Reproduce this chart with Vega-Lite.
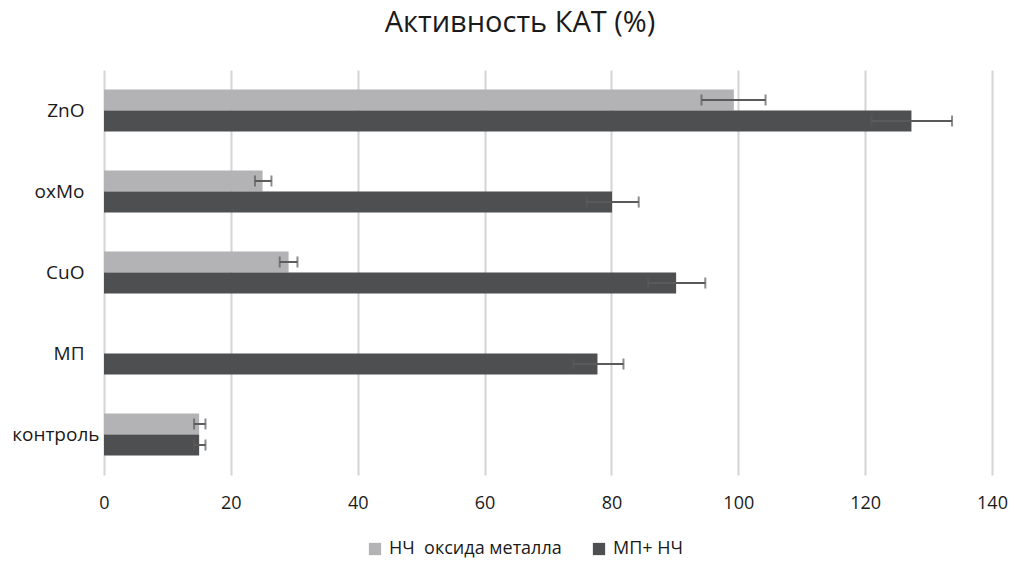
{
  "$schema": "https://vega.github.io/schema/vega-lite/v6.json",
  "autosize": {"type": "none"},
  "width": 888,
  "height": 405,
  "padding": {"left": 104, "top": 70, "right": 22, "bottom": 87},
  "background": "white",
  "config": {
    "font": "Open Sans",
    "view": {"stroke": null}
  },
  "title": {
    "text": "Активность КАТ (%)",
    "fontSize": 29,
    "fontWeight": "normal",
    "color": "#1a1a1a",
    "font": "Open Sans",
    "anchor": "middle",
    "dx": -28,
    "offset": 32
  },
  "data": {
    "values": [
      {"cat": "ZnO", "series": "НЧ  оксида металла", "value": 99.3, "lo": 94.2, "hi": 104.3},
      {"cat": "ZnO", "series": "МП+ НЧ", "value": 127.3, "lo": 121.0, "hi": 133.7},
      {"cat": "oxMo", "series": "НЧ  оксида металла", "value": 25.0, "lo": 23.8, "hi": 26.4},
      {"cat": "oxMo", "series": "МП+ НЧ", "value": 80.1, "lo": 76.1, "hi": 84.3},
      {"cat": "CuO", "series": "НЧ  оксида металла", "value": 29.1, "lo": 27.7, "hi": 30.5},
      {"cat": "CuO", "series": "МП+ НЧ", "value": 90.2, "lo": 85.8, "hi": 94.8},
      {"cat": "МП", "series": "МП+ НЧ", "value": 77.8, "lo": 74.0, "hi": 81.9},
      {"cat": "контроль", "series": "НЧ  оксида металла", "value": 15.0, "lo": 14.2, "hi": 16.0},
      {"cat": "контроль", "series": "МП+ НЧ", "value": 15.0, "lo": 14.2, "hi": 16.0}
    ]
  },
  "encoding": {
    "y": {
      "field": "cat",
      "type": "nominal",
      "sort": ["ZnO", "oxMo", "CuO", "МП", "контроль"],
      "scale": {"domain": ["ZnO", "oxMo", "CuO", "МП", "контроль"], "paddingInner": 0.48, "paddingOuter": 0.24},
      "axis": {
        "title": null,
        "ticks": false,
        "domain": false,
        "labelPadding": {"condition": {"test": "datum.value == 'контроль'", "value": 5}, "value": 20},
        "labelFontSize": 19,
        "labelColor": "#1a1a1a",
        "labelFont": "Open Sans"
      }
    },
    "yOffset": {
      "field": "series",
      "type": "nominal",
      "scale": {"domain": ["НЧ  оксида металла", "МП+ НЧ"], "paddingInner": 0, "paddingOuter": 0}
    }
  },
  "layer": [
    {
      "mark": {"type": "bar"},
      "encoding": {
        "x": {
          "field": "value",
          "type": "quantitative",
          "scale": {"domain": [0, 140], "nice": false},
          "axis": {
            "title": null,
            "values": [0, 20, 40, 60, 80, 100, 120, 140],
            "grid": true,
            "gridColor": "#d4d4d4",
            "gridWidth": 2,
            "ticks": false,
            "domain": false,
            "labelFlush": false,
            "labelPadding": 19,
            "labelFontSize": 18,
            "labelColor": "#1a1a1a",
            "labelFont": "Open Sans"
          }
        },
        "color": {
          "field": "series",
          "type": "nominal",
          "scale": {"domain": ["НЧ  оксида металла", "МП+ НЧ"], "range": ["#b3b3b6", "#4e4f51"]},
          "legend": {
            "title": null,
            "orient": "none",
            "direction": "horizontal",
            "legendX": 262,
            "legendY": 470,
            "symbolType": "square",
            "symbolSize": 150,
            "symbolStrokeWidth": 0,
            "labelFontSize": 18,
            "labelLimit": 400,
            "labelExpr": "datum.label == 'НЧ  оксида металла' ? 'НЧ\u00a0 оксида металла' : datum.label",
            "labelColor": "#1a1a1a",
            "labelFont": "Open Sans",
            "columnPadding": 28,
            "labelOffset": 5
          }
        }
      }
    },
    {
      "mark": {"type": "rule", "color": "#5a5a5a", "strokeWidth": 2},
      "encoding": {
        "x": {"field": "lo", "type": "quantitative"},
        "x2": {"field": "hi"}
      }
    },
    {
      "mark": {"type": "tick", "color": "#5a5a5a", "thickness": 2, "size": 11},
      "encoding": {
        "x": {"field": "lo", "type": "quantitative"}
      }
    },
    {
      "mark": {"type": "tick", "color": "#5a5a5a", "thickness": 2, "size": 11},
      "encoding": {
        "x": {"field": "hi", "type": "quantitative"}
      }
    }
  ]
}
